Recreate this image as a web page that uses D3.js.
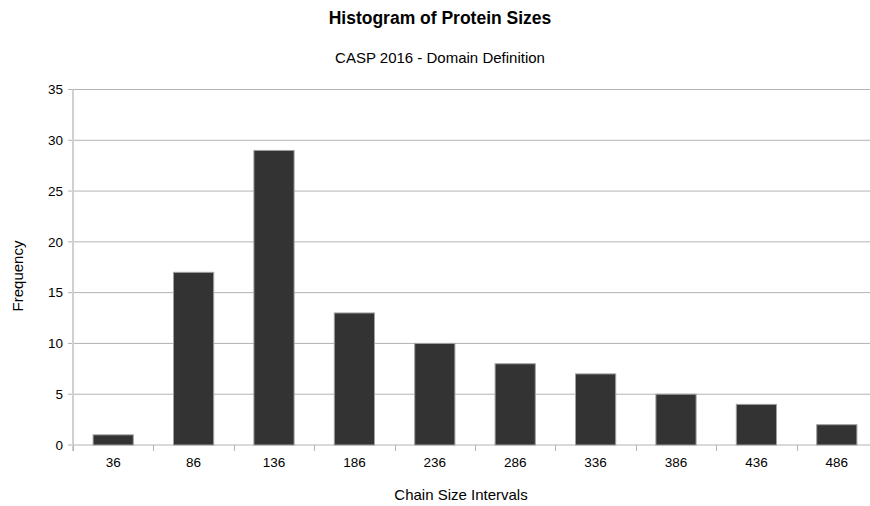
<!DOCTYPE html>
<html><head><meta charset="utf-8">
<script src="https://cdn.jsdelivr.net/npm/d3@7"></script>
<style>body{margin:0;background:#fff}svg{display:block}text{font-family:"Liberation Sans",Arial,sans-serif}</style>
</head><body>
<svg id="c" width="870" height="506"></svg>
<script>
const categories = ["36","86","136","186","236","286","336","386","436","486"];
const frequency = [1,17,29,13,10,8,7,5,4,2];
const yTicks = [0,5,10,15,20,25,30,35];

const svg = d3.select("#c");
const L = 73, R = 877, T = 89.5, B = 445;
const x = d3.scaleBand().domain(categories).range([L, R]).paddingInner(0.5).paddingOuter(0.25);
const xb = d3.scaleBand().domain(categories).range([L, R]);
const y = d3.scaleLinear().domain([0,35]).range([B, T]);

// gridlines
svg.append("g").selectAll("line").data(yTicks).join("line")
  .attr("x1", L-5).attr("x2", 870).attr("y1", d=>y(d)).attr("y2", d=>y(d))
  .attr("stroke", "#b3b3b3").attr("stroke-width", 1);

// y axis line
svg.append("line").attr("x1", L).attr("x2", L).attr("y1", T).attr("y2", B+6)
  .attr("stroke", "#d0d0d0").attr("stroke-width", 2);

// x tick marks at band boundaries
svg.append("g").selectAll("line").data(categories).join("line")
  .attr("x1", d=>Math.round(xb(d))+0.5).attr("x2", d=>Math.round(xb(d))+0.5)
  .attr("y1", B).attr("y2", B+6).attr("stroke", "#b3b3b3");

// bars
svg.append("g").selectAll("rect").data(categories).join("rect")
  .attr("x", d=>x(d)).attr("width", x.bandwidth())
  .attr("y", (d,i)=>y(frequency[i])).attr("height", (d,i)=>B - y(frequency[i]))
  .attr("fill", "#333333").attr("stroke", "#a0a0a0").attr("stroke-width", 1);

// y tick labels
svg.append("g").selectAll("text").data(yTicks).join("text")
  .attr("x", 63).attr("y", d=>y(d)).attr("dy", "0.35em").attr("text-anchor", "end")
  .attr("font-size", 13.5).attr("fill", "#000").text(d=>d);

// x tick labels
svg.append("g").selectAll("text").data(categories).join("text")
  .attr("x", d=>x(d)+x.bandwidth()/2).attr("y", 467).attr("text-anchor", "middle")
  .attr("font-size", 13.5).attr("fill", "#000").text(d=>d);

// titles
svg.append("text").attr("x", 440).attr("y", 24).attr("text-anchor", "middle")
  .attr("font-size", 17.5).attr("font-weight", "bold").text("Histogram of Protein Sizes");
svg.append("text").attr("x", 440).attr("y", 63).attr("text-anchor", "middle")
  .attr("font-size", 15).text("CASP 2016 - Domain Definition");
svg.append("text").attr("x", 461).attr("y", 500).attr("text-anchor", "middle")
  .attr("font-size", 15).text("Chain Size Intervals");
svg.append("text").attr("transform", "translate(23,276) rotate(-90)").attr("text-anchor", "middle")
  .attr("font-size", 15).text("Frequency");
</script>
</body></html>
